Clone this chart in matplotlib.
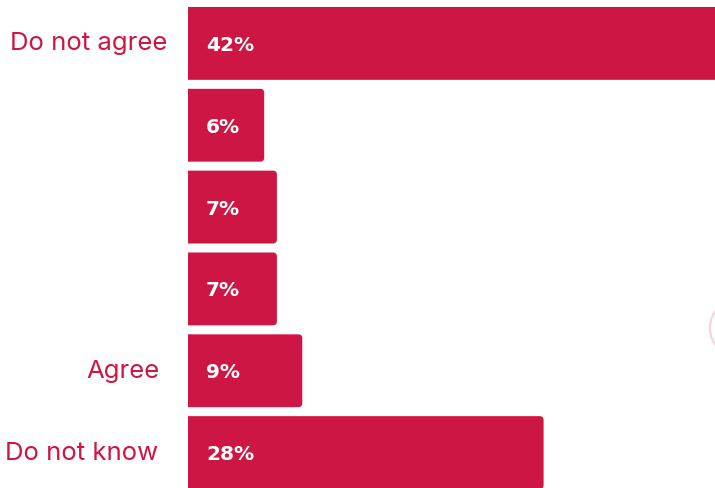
import matplotlib
matplotlib.use("Agg")
import matplotlib.pyplot as plt
from matplotlib.path import Path
from matplotlib.patches import PathPatch, Arc

categories = ["Do not agree", "", "", "", "Agree", "Do not know"]
values = [42, 6, 7, 7, 9, 28]
value_labels = ["42%", "6%", "7%", "7%", "9%", "28%"]

RED = "#CE1644"
W, H, DPI = 715, 488, 100

fig = plt.figure(figsize=(W / DPI, H / DPI), dpi=DPI)
left_px = 188
ax = fig.add_axes([left_px / W, 0, 1 - left_px / W, 1])

px_per_x = 12.7      # pixels per percentage point
pitch_px = 82        # vertical distance between bars
bar_h = 73 / pitch_px
ax.set_xlim(0, (W - left_px) / px_per_x)
ax.set_ylim(5 + 35.5 / pitch_px, -43.5 / pitch_px)
ax.axis("off")

radius_px = 4
rx = radius_px / px_per_x
ry = radius_px / pitch_px


def right_rounded_bar(y_center, width):
    """Bar path with a square left end and rounded right corners."""
    y0, y1 = y_center - bar_h / 2, y_center + bar_h / 2
    verts = [(0, y0), (width - rx, y0),
             (width, y0), (width, y0 + ry),
             (width, y1 - ry),
             (width, y1), (width - rx, y1),
             (0, y1), (0, y0)]
    codes = [Path.MOVETO, Path.LINETO,
             Path.CURVE3, Path.CURVE3,
             Path.LINETO,
             Path.CURVE3, Path.CURVE3,
             Path.LINETO, Path.CLOSEPOLY]
    return Path(verts, codes)


for i, (v, lab) in enumerate(zip(values, value_labels)):
    ax.add_patch(PathPatch(right_rounded_bar(i, v), facecolor=RED,
                           edgecolor="none"))
    ax.text(18 / px_per_x, i + 2 / pitch_px, lab, color="white", fontsize=14.5,
            fontweight="bold", family=["DejaVu Sans"], ha="left", va="center")

label_x = {0: 167, 4: 160, 5: 158}
for i, cat in enumerate(categories):
    if cat:
        fig.text(label_x[i] / W, 1 - ((i * pitch_px + 43.5) / H), cat, color=RED,
                 fontsize=18.5, family=["Inter"], ha="right", va="center")

# faint decorative ring at the right edge
fig.add_artist(Arc((740 / W, 1 - 328 / H), 60 / W, 60 / H, transform=fig.transFigure,
                   color="#F8D3DD", lw=1.5))

fig.savefig("out.png", dpi=DPI)
